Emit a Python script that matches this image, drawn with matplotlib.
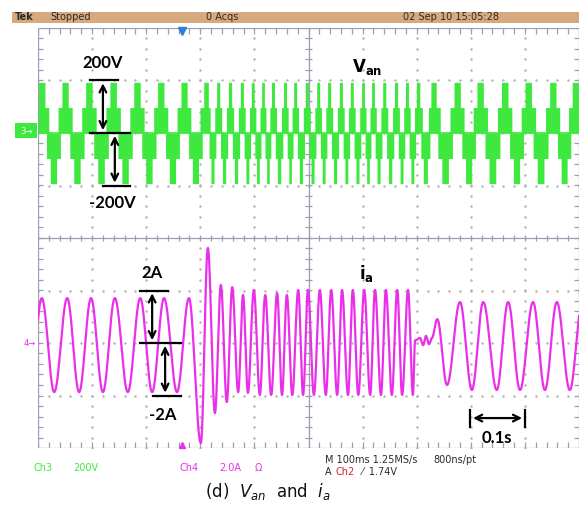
import numpy as np
import matplotlib.pyplot as plt
from matplotlib.patches import Rectangle
from matplotlib.collections import LineCollection

# ------------------------------------------------------------
# Tek scope capture: phase voltage Van (ch3) and current ia (ch4)
# screen is 10 x 8 divisions, 100 ms/div, 200 V/div, 2 A/div
# ------------------------------------------------------------

MS_PER_DIV = 100.0
V_PER_DIV = 200.0
A_PER_DIV = 2.0
CH3_OFFSET = 2.0    # divisions above screen centre
CH4_OFFSET = -2.0   # divisions below screen centre

# current extrema (time in ms, current in A)
ia_t = [-15, 7, 30, 54, 76, 98, 120, 142, 166, 189, 211, 233, 257, 279,
        301, 314, 327, 338, 349, 359, 370, 379, 388, 399, 410, 420, 431,
        442, 451, 460, 470, 481, 490, 499, 510, 521, 532, 542, 553, 562,
        573, 582, 592, 603, 614, 623, 634, 643, 654, 664, 673, 684, 693,
        697, 706, 712, 717, 723, 728, 738, 756, 780, 802, 823, 848, 869,
        891, 915, 937, 959, 983, 1006]
ia_val = [-1.87, 1.71, -1.87, 1.71, -1.87, 1.71, -1.87, 1.71, -1.87, 1.71,
          -1.87, 1.71, -1.87, 1.71,
          -3.81, 3.62, -2.67, 2.21, -2.25, 2.13, -1.87, 1.83, -1.90, 2.02,
          -1.98, 1.83, -1.98, 1.90, -1.98, 1.83, -1.98, 2.02,
          -1.98, 2.02, -1.98, 2.02, -1.98, 2.02, -1.98, 2.02, -1.98, 2.02,
          -1.98, 2.02, -1.98, 2.02, -1.98, 2.02, -1.98, 2.02, -1.98, 2.02,
          -1.98,
          0.10, 0.19, -0.08, 0.27, -0.04, 0.19, 0.91, -1.60, 1.56, -1.79,
          1.56, -1.79, 1.56, -1.79, 1.56, -1.79, 1.56, -1.79, 1.56]

# centres of the +2 level voltage blocks (ms)
van_peak_t = [-37, 7, 50, 94, 139, 183, 227, 270,
              312, 333, 355, 377, 397, 416, 434, 457, 475, 497, 518, 538,
              560, 580, 601, 619, 640, 662, 682, 702,
              730, 775, 817, 863, 906, 952, 993, 1037]
van_levels = [97, 193]          # V, the two visible voltage steps
van_thresh = [-0.31, 0.66]      # fraction of the fundamental for each step

GREEN = "#3fe83f"
MAGENTA = "#ea2fea"
GRID = "#b4b4b4"
FRAME = "#9c9cb4"

fig = plt.figure(figsize=(5.79, 5.11), dpi=100)
ax = fig.add_axes([38 / 579, 63 / 511, 541 / 579, 420 / 511])
ax.set_xlim(0, 10)
ax.set_ylim(-4, 4)
ax.axis("off")

# ---------- graticule ----------
minor = np.arange(0, 10.01, 0.2)
for gx in range(1, 10):
    if gx == 5:
        continue
    ys = np.arange(-4, 4.01, 0.2)
    ax.scatter(np.full_like(ys, gx), ys, s=0.6, color=GRID, zorder=1)
for gy in range(-3, 4):
    if gy == 0:
        continue
    ax.scatter(minor, np.full_like(minor, gy), s=0.6, color=GRID, zorder=1)

segs = [[(0, -4), (10, -4)], [(0, 4), (10, 4)], [(0, -4), (0, 4)],
        [(10, -4), (10, 4)], [(0, 0), (10, 0)], [(5, -4), (5, 4)]]
for x in minor:
    segs.append([(x, 4), (x, 3.88)])
    segs.append([(x, -4), (x, -3.88)])
    segs.append([(x, -0.06), (x, 0.06)])
for y in np.arange(-4, 4.01, 0.2):
    segs.append([(0, y), (0.1, y)])
    segs.append([(10, y), (9.9, y)])
    segs.append([(4.94, y), (5.06, y)])
ax.add_collection(LineCollection(segs, colors=FRAME, linewidths=0.9, zorder=2))

# ---------- ch3: Van ----------
t = np.linspace(0, 1000, 24000)
phase = np.interp(t, van_peak_t, 2 * np.pi * np.arange(len(van_peak_t)))
s = np.cos(phase)
hi = np.where(s > van_thresh[1], van_levels[1],
              np.where(s > van_thresh[0], van_levels[0], 0))
lo = np.where(s < -van_thresh[1], -van_levels[1],
              np.where(s < -van_thresh[0], -van_levels[0], 0))
ax.fill_between(t / MS_PER_DIV, lo / V_PER_DIV + CH3_OFFSET,
                hi / V_PER_DIV + CH3_OFFSET, color=GREEN, lw=0, zorder=3)
ax.plot([0, 10], [CH3_OFFSET, CH3_OFFSET], color=GREEN, lw=1.2, zorder=3)

# ---------- ch4: ia ----------
et = np.array(ia_t, dtype=float)
ev = np.array(ia_val, dtype=float)
tc = np.linspace(-10, 1000, 12000)
k = np.clip(np.searchsorted(et, tc) - 1, 0, len(et) - 2)
u = (tc - et[k]) / (et[k + 1] - et[k])
ia = ev[k] + (ev[k + 1] - ev[k]) * (1 - np.cos(np.pi * u)) / 2
ax.plot(tc / MS_PER_DIV, ia / A_PER_DIV + CH4_OFFSET, color=MAGENTA,
        lw=1.6, zorder=4, clip_on=True)

# ---------- annotations ----------
ann = dict(color="black", fontsize=12, fontweight="bold", family="Lato",
           ha="center", va="center", zorder=6)
arr = dict(arrowstyle="<->", color="black", lw=1.6, mutation_scale=12)

ax.plot([0.96, 1.48], [3, 3], color="black", lw=1.6, zorder=6)
ax.plot([0.96, 1.70], [2, 2], color="black", lw=1.6, zorder=6)
ax.plot([1.20, 1.70], [1, 1], color="black", lw=1.6, zorder=6)
ax.annotate("", xy=(1.20, 3), xytext=(1.20, 2), arrowprops=arr, zorder=6)
ax.annotate("", xy=(1.42, 2), xytext=(1.42, 1), arrowprops=arr, zorder=6)
ax.text(1.20, 3.33, "200V", **ann)
ax.text(1.37, 0.67, "-200V", **ann)
ax.text(6.08, 3.26, r"$\mathbf{V_{an}}$", **ann)

ax.plot([1.89, 2.40], [-1, -1], color="black", lw=1.6, zorder=6)
ax.plot([1.89, 2.64], [-2, -2], color="black", lw=1.6, zorder=6)
ax.plot([2.13, 2.64], [-3, -3], color="black", lw=1.6, zorder=6)
ax.annotate("", xy=(2.11, -1), xytext=(2.11, -2), arrowprops=arr, zorder=6)
ax.annotate("", xy=(2.35, -2), xytext=(2.35, -3), arrowprops=arr, zorder=6)
ax.text(2.11, -0.67, "2A", **ann)
ax.text(2.31, -3.37, "-2A", **ann)
ax.text(6.08, -0.67, r"$\mathbf{i_{a}}$", **ann)

ax.annotate("", xy=(7.99, -3.43), xytext=(9.0, -3.43),
            arrowprops=dict(arrowstyle="<->", color="black", lw=1.6,
                            mutation_scale=12), zorder=6)
ax.plot([7.99, 7.99], [-3.28, -3.6], color="black", lw=1.6, zorder=6)
ax.plot([9.0, 9.0], [-3.28, -3.6], color="black", lw=1.6, zorder=6)
ax.text(8.48, -3.81, "0.1s", **ann)

# trigger marker
ax.plot([2.66], [3.95], marker="v", ms=6, color="#2a80d8", clip_on=False, zorder=7)
ax.plot([2.66], [-3.95], marker="^", ms=4, color=MAGENTA, clip_on=False, zorder=7)

# ---------- scope status text ----------
fig.patches.append(Rectangle((12 / 579, 1 - 23 / 511), 567 / 579, 11 / 511,
                             transform=fig.transFigure, color="#d8a97e", lw=0))
st = dict(fontsize=7, va="center")
dark = "#2a2a2a"
yb = 1 - 17.5 / 511
fig.text(15 / 579, yb, "Tek", fontweight="bold", color=dark, **st)
fig.text(50 / 579, yb, "Stopped", color=dark, **st)
fig.text(206 / 579, yb, "0 Acqs", color=dark, **st)
fig.text(403 / 579, yb, "02 Sep 10 15:05:28", color=dark, **st)

fig.patches.append(Rectangle((15 / 579, 1 - 138 / 511), 22 / 579, 15 / 511,
                             transform=fig.transFigure, color=GREEN, lw=0))
fig.text(26 / 579, 1 - 131 / 511, "3→", color="white", fontsize=6,
         ha="center", va="center")
fig.text(30 / 579, 1 - 343 / 511, "4→", color=MAGENTA, fontsize=6,
         ha="center", va="center")

yl1 = 1 - 468 / 511
fig.text(33 / 579, yl1, "Ch3", color=GREEN, **st)
fig.text(73 / 579, yl1, "200V", color=GREEN, **st)
fig.text(180 / 579, yl1, "Ch4", color=MAGENTA, **st)
fig.text(219 / 579, yl1, "2.0A", color=MAGENTA, **st)
fig.text(255 / 579, yl1, "Ω", color=MAGENTA, **st)
fig.text(325 / 579, 1 - 460 / 511, "M 100ms 1.25MS/s", color=dark, **st)
fig.text(433 / 579, 1 - 460 / 511, "800ns/pt", color=dark, **st)
fig.text(325 / 579, 1 - 472 / 511, "A", color=dark, **st)
fig.text(336 / 579, 1 - 472 / 511, "Ch2", color="#e02020", **st)
fig.text(362 / 579, 1 - 472 / 511, "⁄  1.74V", color=dark, **st)

fig.text(268 / 579, 1 - 492 / 511, r"(d)  $V_{an}$  and  $i_a$",
         fontsize=12, ha="center", va="center", color="#111111")

fig.savefig("out.png", dpi=100)
